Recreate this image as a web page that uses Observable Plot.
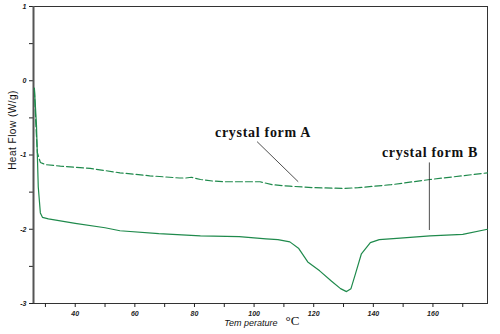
<!DOCTYPE html>
<html>
<head>
<meta charset="utf-8">
<script src="https://cdn.jsdelivr.net/npm/d3@7"></script>
<script src="https://cdn.jsdelivr.net/npm/@observablehq/plot@0.6"></script>
<style>
  html, body { margin: 0; padding: 0; background: #fff; }
  #chart { width: 500px; height: 334px; }
</style>
</head>
<body>
<div id="chart"></div>
<script>
// Crystal form A (dashed curve): temperature (°C) and heat flow (W/g)
const tempA = [26.3, 26.8, 27.3, 28.3, 30, 35, 45, 55, 65, 75, 77, 79, 82, 86, 90, 102, 106, 112, 120, 130, 135, 146, 159, 170, 178.3];
const flowA = [-0.12, -0.6, -0.97, -1.10, -1.13, -1.15, -1.18, -1.24, -1.28, -1.31, -1.31, -1.30, -1.33, -1.35, -1.36, -1.36, -1.40, -1.42, -1.44, -1.45, -1.44, -1.40, -1.33, -1.28, -1.24];

// Crystal form B (solid curve)
const tempB = [26.3, 27, 27.6, 28.3, 29, 31, 40, 50, 55, 68, 82, 95, 104, 108, 112, 115, 118, 122, 126, 129, 131, 132.5, 134, 136, 139, 142, 149, 159, 170, 178.3];
const flowB = [-0.1, -0.6, -1.43, -1.78, -1.84, -1.86, -1.92, -1.98, -2.02, -2.06, -2.09, -2.10, -2.13, -2.14, -2.17, -2.26, -2.44, -2.56, -2.70, -2.80, -2.84, -2.80, -2.60, -2.33, -2.18, -2.14, -2.12, -2.09, -2.07, -2.0];

// Annotations
const labels = ["crystal form A", "crystal form B"];
const labelTemp = [103, 159];
const labelFlow = [-0.70, -0.97];
const leaderX1 = [101, 158.8];
const leaderY1 = [-0.82, -1.10];
const leaderX2 = [114.8, 158.8];
const leaderY2 = [-1.36, -2.01];

// Axes
const xTicks = [30, 40, 50, 60, 70, 80, 90, 100, 110, 120, 130, 140, 150, 160, 170];
const xLabelTicks = [40, 60, 80, 100, 120, 140, 160];
const yTicks = [-3, -2.5, -2, -1.5, -1, -0.5, 0, 0.5, 1];
const yLabelTicks = [-3, -2, -1, 0, 1];
const xTitle = "Tem perature";
const xUnit = "°C";
const yTitle = "Heat Flow (W/g)";

const seriesA = tempA.map((t, i) => ({t, f: flowA[i]}));
const seriesB = tempB.map((t, i) => ({t, f: flowB[i]}));
const notes = labels.map((text, i) => ({text, x: labelTemp[i], y: labelFlow[i], x1: leaderX1[i], y1: leaderY1[i], x2: leaderX2[i], y2: leaderY2[i]}));

const green = "#1f8a4c";

const chart = Plot.plot({
  width: 500,
  height: 334,
  marginLeft: 33,
  marginRight: 13,
  marginTop: 6,
  marginBottom: 31,
  style: {background: "#fff", color: "#222"},
  x: {domain: [26, 178.3]},
  y: {domain: [-3, 1]},
  marks: [
    Plot.frame({stroke: "#333", strokeWidth: 1}),
    Plot.axisY({ticks: yTicks, tickSize: 4, tickPadding: 3, label: null,
      tickFormat: d => yLabelTicks.includes(d) ? String(d) : "",
      fontSize: 7, fontStyle: "italic", fontWeight: "bold", fontFamily: "Liberation Sans, Arial, sans-serif"}),
    Plot.axisX({ticks: xTicks, tickSize: 4, tickPadding: 4, label: null,
      tickFormat: d => xLabelTicks.includes(d) ? String(d) : "",
      fontSize: 7, fontStyle: "italic", fontWeight: "bold", fontFamily: "Liberation Sans, Arial, sans-serif"}),
    Plot.ruleX([26], {stroke: "#555", strokeWidth: 2}),
    Plot.line(seriesA, {x: "t", y: "f", stroke: green, strokeWidth: 1.2, strokeDasharray: "7,3"}),
    Plot.line(seriesB, {x: "t", y: "f", stroke: green, strokeWidth: 1.2}),
    Plot.link(notes, {x1: "x1", y1: "y1", x2: "x2", y2: "y2", stroke: "#222", strokeWidth: 0.8}),
    Plot.text(notes, {x: "x", y: "y", text: "text", fontSize: 14, fontWeight: "bold", className: "anno",
      fontFamily: "Liberation Serif, Times New Roman, serif", fill: "#111"}),
    Plot.text([xTitle], {frameAnchor: "bottom", dy: 22, dx: 17, textAnchor: "end", text: d => d,
      fontSize: 9, fontStyle: "italic", fontFamily: "Liberation Sans, Arial, sans-serif", fill: "#111"}),
    Plot.text([xUnit], {frameAnchor: "bottom", dy: 21, dx: 25, textAnchor: "start", text: d => d,
      fontSize: 13, fontFamily: "Liberation Serif, Times New Roman, serif", fill: "#111"}),
    Plot.text([yTitle], {frameAnchor: "left", dx: -21, dy: -25, rotate: -90, textAnchor: "middle", text: d => d,
      fontSize: 10, className: "ytitle", fontFamily: "Liberation Sans, Arial, sans-serif", fill: "#111"})
  ]
});
d3.select(chart).selectAll(".anno text").attr("letter-spacing", "0.7");
d3.select(chart).selectAll(".ytitle text").attr("letter-spacing", "0.5");
document.getElementById("chart").appendChild(chart);
</script>
</body>
</html>
